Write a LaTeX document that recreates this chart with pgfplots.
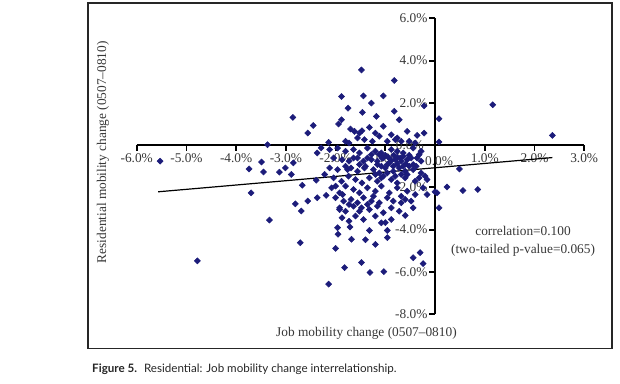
\documentclass[border=0pt]{standalone}
\usepackage{fontspec}
\setmainfont{Liberation Serif}
\newfontfamily\capfont{Lato}
\usepackage{pgfplots}
\pgfplotsset{compat=1.18}
\definecolor{ptcol}{RGB}{28,28,122}
\definecolor{txt}{RGB}{55,55,55}
\begin{document}
\begin{tikzpicture}
\begin{axis}[
  scale only axis, width=335.3pt, height=221.6pt,
  xmin=-6, xmax=3, ymin=-8, ymax=6,
  axis lines=middle,
  axis line style={line width=1.4pt,-},
  xtick={-6,-5,...,3}, ytick={-8,-6,...,6},
  tick align=center,
  major tick length=4.4pt,
  xtick style={line width=1.4pt,black,yshift=-2.2pt},
  ytick style={line width=1.4pt,black,xshift=-2.2pt},
  /pgf/number format/assume math mode=true,
  xticklabel={\pgfmathprintnumber[fixed,fixed zerofill,precision=1]{\tick}\%},
  yticklabel={\pgfmathprintnumber[fixed,fixed zerofill,precision=1]{\tick}\%},
  ticklabel style={font=\fontsize{10}{12}\selectfont, text=txt},
  xticklabel style={yshift=-1pt},
  clip=false,
]
\addplot[only marks, mark=square*, mark size=1.6pt, mark options={rotate=45, ptcol}, ptcol] coordinates {
(-5.53,-0.76) (-4.78,-5.48) (-3.37,0.02) (-3.74,-1.13) (-3.70,-2.26) (-3.49,-0.80) (-3.45,-1.27) (-3.33,-3.55) (-3.13,-1.28) (-3.01,-1.08)
(-2.86,1.31) (-2.89,-1.39) (-2.85,-0.84) (-2.81,-2.78) (-2.69,-3.12) (-2.71,-4.62) (-2.67,-1.90) (-2.56,0.57) (-2.56,-2.65) (-2.45,0.93)
(-2.39,-1.66) (-2.37,-2.49) (-2.37,-0.37) (-2.29,-0.13) (-2.22,-1.39) (-2.19,-2.38) (-2.14,0.13) (-2.14,-6.58) (-2.00,-4.89) (-1.96,-3.91)
(-1.95,-4.22) (-1.94,1.00) (-1.88,2.30) (-1.82,-5.80) (-1.92,-2.97) (-1.88,1.20) (-1.75,1.75) (-1.71,-3.88) (-1.68,-4.46) (-1.48,3.56)
(-1.48,-5.56) (-1.44,2.33) (-1.46,1.55) (-1.40,-4.48) (-1.28,1.99) (-1.31,-6.03) (-1.32,-4.04) (-1.20,-4.70) (-1.18,1.36) (-1.04,2.33)
(-1.03,-5.99) (-1.00,-3.67) (-0.96,-4.04) (-0.96,-4.38) (-0.82,3.06) (-0.82,1.60) (-0.72,1.20) (-0.60,-3.33) (-0.56,0.65) (-0.44,-5.33)
(-0.30,-5.09) (-0.24,-5.61) (-0.22,1.86) (-0.22,0.57) (-0.32,-0.45) (-0.40,-2.34) (-0.16,-1.63) (-0.44,-2.97) (0.00,-2.21) (0.04,-2.26)
(0.08,1.25) (0.08,0.15) (0.08,-2.97) (0.24,-1.98) (0.49,-1.13) (0.56,-2.15) (0.86,-2.10) (1.16,1.91) (2.36,0.46)
(-1.70,0.76) (-1.62,0.65) (-1.52,0.57) (-1.47,0.68) (-1.32,0.84) (-1.20,0.57) (-1.04,0.89) (-0.88,0.49) (-0.76,0.34) (-0.36,0.46)
(-1.80,0.18) (-1.73,0.10) (-1.56,0.34) (-1.42,0.26) (-1.26,0.18) (-1.12,0.42) (-0.96,0.18) (-0.80,0.26) (-0.68,0.18) (-0.52,0.18) (-0.40,0.10)
(-2.12,-0.21) (-1.96,-0.14) (-1.80,-0.29) (-1.64,-0.21) (-1.52,-0.37) (-1.36,-0.14) (-1.20,-0.29) (-1.08,-0.37) (-0.88,-0.21) (-0.76,-0.29) (-0.64,-0.37) (-0.44,-0.14) (-0.28,-0.29)
(-2.04,-0.61) (-1.87,-0.69) (-1.73,-0.76) (-1.56,-0.61) (-1.44,-0.76) (-1.28,-0.69) (-1.16,-0.76) (-1.04,-0.61) (-0.92,-0.84) (-0.80,-0.69) (-0.68,-0.76) (-0.56,-0.69) (-0.44,-0.92) (-0.28,-0.76)
(-2.12,-1.08) (-1.96,-1.16) (-1.80,-1.00) (-1.69,-1.08) (-1.56,-1.24) (-1.40,-1.00) (-1.24,-1.16) (-1.12,-1.32) (-1.00,-1.08) (-0.84,-1.24) (-0.72,-1.08) (-0.60,-1.24) (-0.44,-1.16) (-0.28,-1.32)
(-2.04,-1.55) (-1.88,-1.71) (-1.74,-1.47) (-1.60,-1.63) (-1.47,-1.79) (-1.32,-1.55) (-1.16,-1.71) (-1.04,-1.47) (-0.88,-1.63) (-0.76,-1.79) (-0.60,-1.55) (-0.40,-1.71) (-0.20,-1.47)
(-2.08,-2.02) (-1.92,-2.26) (-1.80,-1.94) (-1.64,-2.10) (-1.52,-2.26) (-1.36,-2.02) (-1.20,-2.18) (-1.08,-1.94) (-0.92,-2.26) (-0.76,-2.02) (-0.56,-2.18)
(-2.00,-2.49) (-1.84,-2.65) (-1.69,-2.57) (-1.56,-2.73) (-1.44,-2.49) (-1.28,-2.65) (-1.12,-2.73) (-0.96,-2.49) (-0.84,-2.65) (-0.68,-2.73) (-0.48,-2.65)
(-1.92,-3.05) (-1.80,-3.13) (-1.64,-2.89) (-1.52,-3.13) (-1.32,-3.05) (-1.16,-2.89) (-1.04,-3.20) (-0.88,-2.97) (-0.72,-3.13)
(-1.87,-3.44) (-1.73,-3.60) (-1.60,-3.36) (-1.44,-3.52) (-1.20,-3.36) (-1.08,-3.68) (-0.88,-3.52)
(-1.12,-0.45) (-1.07,-0.61) (-1.00,-0.48) (-0.94,-0.58) (-0.88,-0.73) (-0.83,-0.48) (-0.76,-0.58) (-0.70,-0.61) (-0.64,-0.53) (-0.59,-0.89) (-0.52,-0.48)
(-1.16,-0.92) (-1.08,-1.00) (-0.96,-0.92) (-0.84,-1.00) (-0.76,-0.89) (-0.64,-1.00) (-0.52,-1.00) (-1.20,-1.39) (-1.08,-1.55) (-0.96,-1.32) (-0.80,-1.47)
(-0.68,-1.39) (-0.56,-1.39) (-1.28,-0.45) (-1.36,-0.61) (-1.42,-1.08) (-1.52,-0.92) (-1.64,-0.61) (-1.76,-1.16) (-0.48,-0.61) (-0.36,-0.61) (-0.38,-1.00)
(-0.32,-1.55) (-0.24,-2.02) (-0.16,-2.34) (-0.68,-2.42) (-0.60,-2.57) (-1.24,-2.42) (-1.36,-2.81) (-1.48,-2.97) (-1.73,-2.81) (-1.86,-2.34) (-2.00,-1.94)
};
\addplot[black, line width=0.9pt] coordinates {(-5.57,-2.21) (2.36,-0.59)};
\draw[line width=1.2pt, black!85] (axis cs:-6.98,6.73) rectangle (axis cs:3.56,-9.63);
\node[anchor=north, text=txt, font=\fontsize{10}{12}\selectfont, yshift=-5pt] at (axis cs:0.08,0) {0.0\%};
\node[anchor=east, text=txt, font=\fontsize{10}{12}\selectfont, xshift=-5pt] at (axis cs:0,0) {0.0\%};
\node[rotate=90, text=txt, font=\fontsize{10}{12}\selectfont] at (axis cs:-6.68,-0.34) {Residential mobility change (0507--0810)};
\node[text=txt, font=\fontsize{10}{12}\selectfont] at (axis cs:-1.38,-8.92) {Job mobility change (0507--0810)};
\node[text=txt, align=center, font=\fontsize{10}{14}\selectfont] at (axis cs:1.77,-4.55) {correlation=0.100\\(two-tailed p-value=0.065)};
\node[anchor=base west, inner sep=0pt, text=black!85, font=\capfont\fontsize{8.7}{11}\selectfont] at (axis cs:-6.90,-10.76) {\textbf{Figure 5.}\hspace{0.6em}Residential: Job mobility change interrelationship.};
\coordinate (bbA) at (axis cs:-8.75,6.87);
\coordinate (bbB) at (axis cs:3.72,-11.28);
\end{axis}
\pgfresetboundingbox
\path[use as bounding box] (bbA) rectangle (bbB);
\end{tikzpicture}
\end{document}
